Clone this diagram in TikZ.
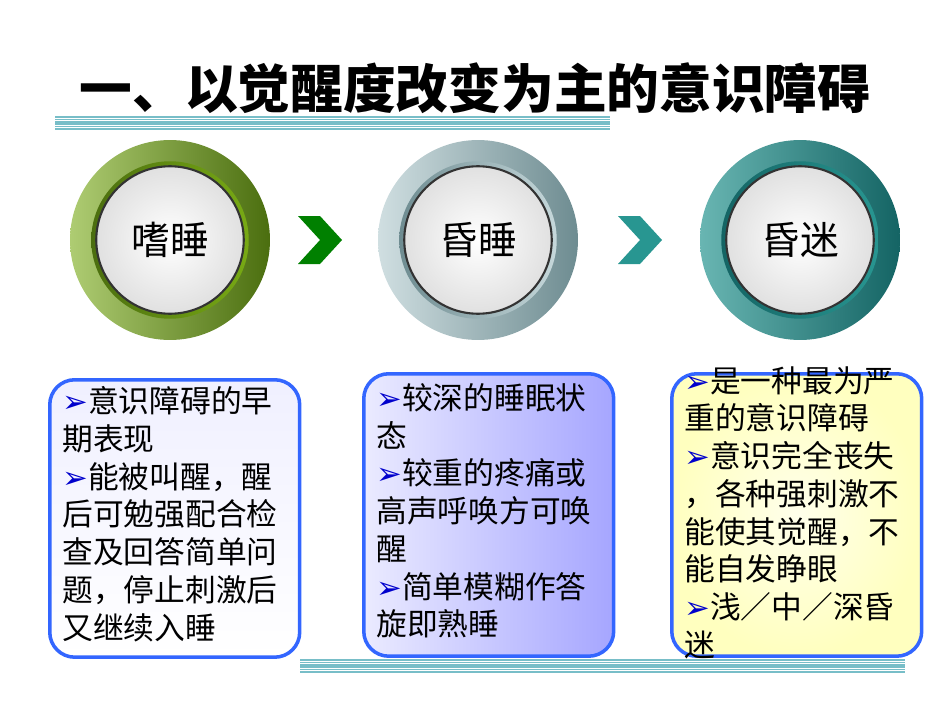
\documentclass[tikz,border=0pt]{standalone}
\usepackage{fontspec}
\setmainfont{Noto Sans CJK SC}
\newfontfamily\symfont{DejaVu Sans}
\usetikzlibrary{shadings}
\definecolor{ttblue}{RGB}{51,102,255}
\definecolor{ttgreen}{RGB}{120,170,20}
\definecolor{ttdkgreen}{RGB}{75,110,15}
\definecolor{ttgrey}{RGB}{160,190,195}
\definecolor{ttdkgrey}{RGB}{110,140,145}
\definecolor{ttteal}{RGB}{40,150,145}
\definecolor{ttdkteal}{RGB}{20,100,100}
\definecolor{ttline}{RGB}{120,190,200}
\newcommand{\bul}{{\symfont\color{blue!80!black}➢}}

\begin{document}
\begin{tikzpicture}[
  x=0.02cm, y=-0.02cm,
  ring/.style={circle, minimum size=4cm, inner sep=0pt},
  face/.style={circle, minimum size=2.95cm, inner sep=0pt, draw=black!80, line width=1.2pt,
    inner color=white, outer color=black!12, font=\fontsize{22}{24}\selectfont},
  infobox/.style={rounded corners=0.5cm, draw=ttblue, line width=2pt, anchor=north west,
    minimum width=5cm, minimum height=5.5cm},
  boxtext/.style={anchor=north west, align=left, inner sep=0pt, text width=4.8cm,
    font=\fontsize{17.5}{21.5}\selectfont}
]
\useasboundingbox (0,0) rectangle (950,713);

% Title
\node[font=\fontsize{30}{32}\selectfont\bfseries] (title) at (475,88) {一、以觉醒度改变为主的意识障碍};
\foreach \k in {0,...,5} {
  \draw[ttline, line width=0.9pt] (55,117+2.4*\k) coordinate (tl\k) -- (610,117+2.4*\k);
  \draw[ttline, line width=0.9pt] (300,660+2.4*\k) coordinate (bl\k) -- (905,660+2.4*\k);
}

% Circles
\node[ring, left color=ttgreen!60, right color=ttdkgreen] (r1) at (170,240) {};
\node[ring, minimum size=3.15cm, left color=ttdkgreen, right color=ttgreen] at (r1) {};
\node[face] (c1) at (r1) {嗜睡};

\node[ring, left color=ttgrey!50, right color=ttdkgrey] (r2) at (478,240) {};
\node[ring, minimum size=3.15cm, left color=ttdkgrey, right color=ttgrey!60] at (r2) {};
\node[face] (c2) at (r2) {昏睡};

\node[ring, left color=ttteal!70, right color=ttdkteal] (r3) at (800,240) {};
\node[ring, minimum size=3.15cm, left color=ttdkteal, right color=ttteal] at (r3) {};
\node[face] (c3) at (r3) {昏迷};

% Chevrons
\fill[green!50!black] (298,216) -- (320,216) -- (342,240) -- (320,264) -- (298,264) -- (320,240) -- cycle;
\fill[ttteal] (618,216) -- (640,216) -- (662,240) -- (640,264) -- (618,264) -- (640,240) -- cycle;

% Boxes
\node[infobox, minimum height=5.55cm, top color=blue!6, bottom color=white] (b1) at (48,378) {};
\node[infobox, minimum height=5.65cm, left color=blue!8, right color=blue!35] (b2) at (362,372) {};
\node[infobox, minimum height=5.65cm, inner color=yellow!8, outer color=yellow!25] (b3) at (670,372) {};

\node[boxtext] (t1) at (62,386) {\bul 意识障碍的早\\期表现\\\bul 能被叫醒，醒\\后可勉强配合检\\查及回答简单问\\题，停止刺激后\\又继续入睡};
\node[boxtext] (t2) at (376,383) {\bul 较深的睡眠状\\态\\\bul 较重的疼痛或\\高声呼唤方可唤\\醒\\\bul 简单模糊作答\\旋即熟睡};
\node[boxtext] (t3) at (684,366) {\bul 是一种最为严\\重的意识障碍\\\bul 意识完全丧失\\，各种强刺激不\\能使其觉醒，不\\能自发睁眼\\\bul 浅／中／深昏\\迷};
\end{tikzpicture}
\end{document}
